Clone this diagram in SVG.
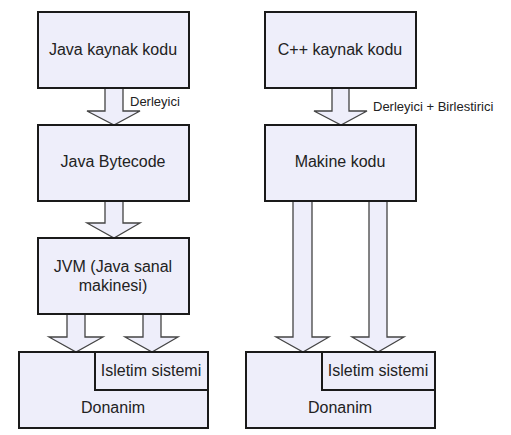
<svg xmlns="http://www.w3.org/2000/svg" width="511" height="435" viewBox="0 0 511 435">
<style>
.box{fill:#eeeefa;stroke:#1a1a1a;stroke-width:2}
.arr{fill:#eeeefa;stroke:#444;stroke-width:1.3;stroke-linejoin:miter}
.t{font-family:"Liberation Sans",Arial,sans-serif;font-size:16px;fill:#222;text-anchor:middle}
.lbl{font-family:"Liberation Sans",Arial,sans-serif;font-size:13px;fill:#222}
</style>
<rect width="511" height="435" fill="#fff"/>
<g id="connectors">
<path class="arr" d="M105,88 V111 H87 L114,125 L140,111 H123 V88"/>
<path class="arr" d="M105,201 V223 H87 L114,238 L140,223 H123 V201"/>
<path class="arr" d="M67,314 V337 H49 L76,352 L103,337 H85 V314"/>
<path class="arr" d="M143,314 V337 H125 L152,352 L178,337 H161 V314"/>
<path class="arr" d="M332,88 V111 H314 L341,125 L367,111 H349 V88"/>
<path class="arr" d="M293,201 V337 H276 L303,352 L329,337 H312 V201"/>
<path class="arr" d="M369,201 V337 H352 L378,352 L404,337 H387 V201"/>
<text class="lbl" x="130" y="106">Derleyici</text>
<text class="lbl" x="373" y="111">Derleyici + Birlestirici</text>
</g>
<g id="java-src"><rect class="box" x="38" y="12" width="151" height="76"/><text class="t" x="113" y="55">Java kaynak kodu</text></g>
<g id="java-bytecode"><rect class="box" x="38" y="125" width="151" height="76"/><text class="t" x="113" y="167">Java Bytecode</text></g>
<g id="jvm"><rect class="box" x="38" y="238" width="151" height="76"/><text class="t" x="113" y="272">JVM (Java sanal</text><text class="t" x="113" y="291">makinesi)</text></g>
<g id="donanim-left"><rect class="box" x="19" y="352" width="189" height="76"/><text class="t" x="113" y="413">Donanim</text></g>
<g id="isletim-left"><rect class="box" x="95" y="352" width="113" height="38"/><text class="t" x="151" y="376">Isletim sistemi</text></g>
<g id="cpp-src"><rect class="box" x="265" y="12" width="151" height="76"/><text class="t" x="340" y="55">C++ kaynak kodu</text></g>
<g id="makine-kodu"><rect class="box" x="265" y="125" width="151" height="76"/><text class="t" x="340" y="167">Makine kodu</text></g>
<g id="donanim-right"><rect class="box" x="246" y="352" width="189" height="76"/><text class="t" x="340" y="413">Donanim</text></g>
<g id="isletim-right"><rect class="box" x="322" y="352" width="113" height="38"/><text class="t" x="378" y="376">Isletim sistemi</text></g>
</svg>
